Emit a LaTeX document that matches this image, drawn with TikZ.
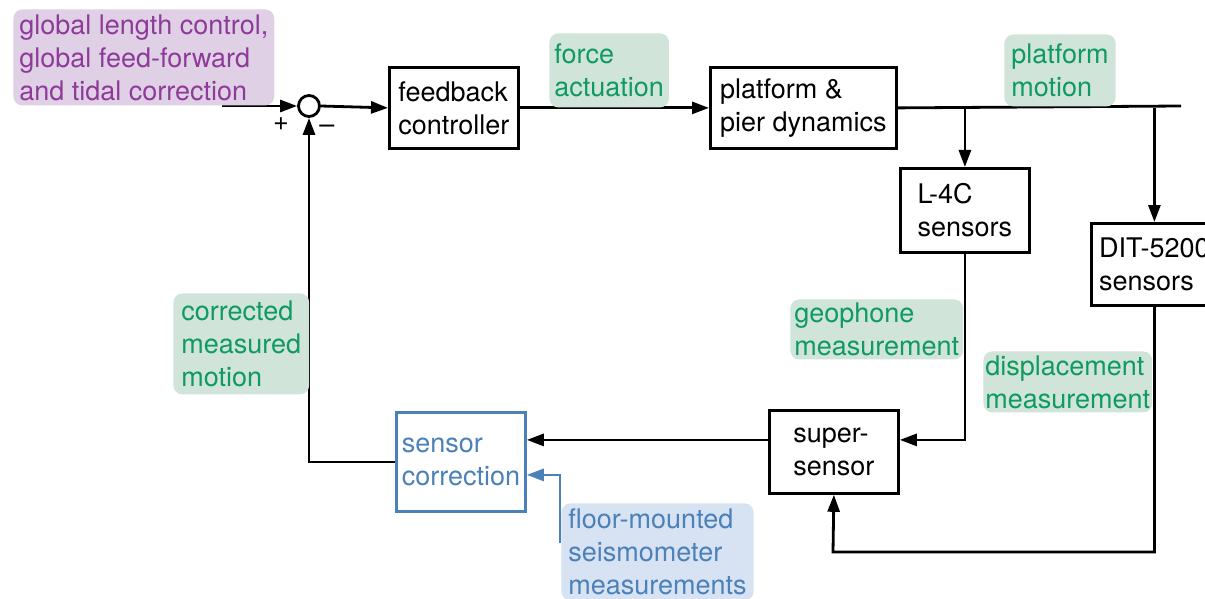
\documentclass[tikz,border=0pt]{standalone}
\usepackage{fontspec}
\setmainfont{TeX Gyre Heros}
\usepackage{tikz}
\usetikzlibrary{arrows.meta}
\usetikzlibrary{positioning}
\definecolor{glcpurple}{RGB}{142,58,152}
\definecolor{glcbg}{RGB}{223,208,230}
\definecolor{siggreen}{RGB}{14,154,96}
\definecolor{siggreenbg}{RGB}{208,228,218}
\definecolor{corrblue}{RGB}{75,128,184}
\definecolor{corrbluebg}{RGB}{215,226,243}
\newcommand{\diafont}{\fontsize{27}{33}\selectfont}

\begin{document}
\begin{tikzpicture}[x=1pt,y=-1pt,line width=2.8pt,
    >={Triangle[length=17pt,width=12pt]},
    blk/.style={draw,anchor=north west,align=left,inner sep=0pt,font=\diafont},
    tag/.style={rounded corners=9pt,anchor=north west,align=left,
      inner xsep=6pt,inner ysep=0pt,font=\diafont},
    sig/.style={tag,fill=siggreenbg,text=siggreen}]
    \useasboundingbox (0,0) rectangle (1205,599);
    % blocks
    \node[blk,minimum width=129pt,minimum height=81pt] (fb) at (388,66)
      {feedback\\controller};
    \node[blk,minimum width=186pt,minimum height=81pt] (plant) at (709,66)
      {platform \&\\pier dynamics};
    \node[blk,minimum width=129pt,minimum height=84pt] (geo) at (899,167)
      {L-4C\\sensors};
    \node[blk,minimum width=126pt,minimum height=82pt] (dit) at (1090,222)
      {DIT-5200\\sensors};
    \node[blk,minimum width=129pt,minimum height=83pt] (ss) at (768,409)
      {super-\\sensor};
    \node[blk,draw=corrblue,text=corrblue,minimum width=129pt,
      minimum height=99pt] (sc) at (395,411) {sensor\\correction};
    % summing point
    \node[draw,circle,fill=white,inner sep=0pt,minimum size=21pt] (sum) at (309,106) {};
    \node[font=\diafont] (plus) at (281,124) {+};
    \node[font=\diafont] (minus) at (327,129) {--};
    \coordinate (in) at (222,106);
    \coordinate (out) at (1181,106);
    \coordinate (dbot) at (833,552);
    \coordinate (fs) at (560,543);
    % forward path
    \draw[->] (in) -- (sum.west);
    \draw[->] (sum.east) -- (fb.west);
    \draw[->] (fb.east) -- (plant.west);
    \draw (plant.east) -- (out);
    \draw[->] (geo.north |- plant.east) -- (geo.north);
    \draw[->] (dit.north |- plant.east) -- (dit.north);
    % feedback path
    \draw[->] (geo.south) |- ([yshift=12pt]ss.east);
    \draw[->] (dit.south) |- (dbot) -- (ss.south);
    \draw[->] ([yshift=12pt]ss.west) -- ([yshift=12pt]ss.west -| sc.east);
    \draw[->,corrblue] (fs) |- ([yshift=-13pt]sc.east);
    \draw[->] (sc.west) -| (sum.south);
    % signal labels
    \node[tag,fill=glcbg,text=glcpurple,minimum height=96pt] (glc) at (12,8)
      {global length control,\\global feed-forward\\and tidal correction};
    \node[sig,inner xsep=5pt,minimum height=74pt] (force) at (548,32) {force\\actuation};
    \node[sig,inner xsep=7pt,minimum height=72pt] (pmot) at (1003,33) {platform\\motion};
    \node[sig,inner xsep=4pt,minimum height=60pt] (gmeas) at (789,298) {geophone\\measurement};
    \node[sig,inner xsep=2pt,minimum height=61pt] (dmeas) at (982,350) {displacement\\measurement};
    \node[sig,inner xsep=8pt,minimum height=101pt] (cmm) at (172,292) {corrected\\measured\\motion};
    \node[tag,fill=corrbluebg,text=corrblue,inner xsep=7pt,minimum height=97pt] (floor) at (560,502)
      {floor-mounted\\seismometer\\measurements};
    \draw[corrblue] (floor.north west) -- (fs);
\end{tikzpicture}
\end{document}
